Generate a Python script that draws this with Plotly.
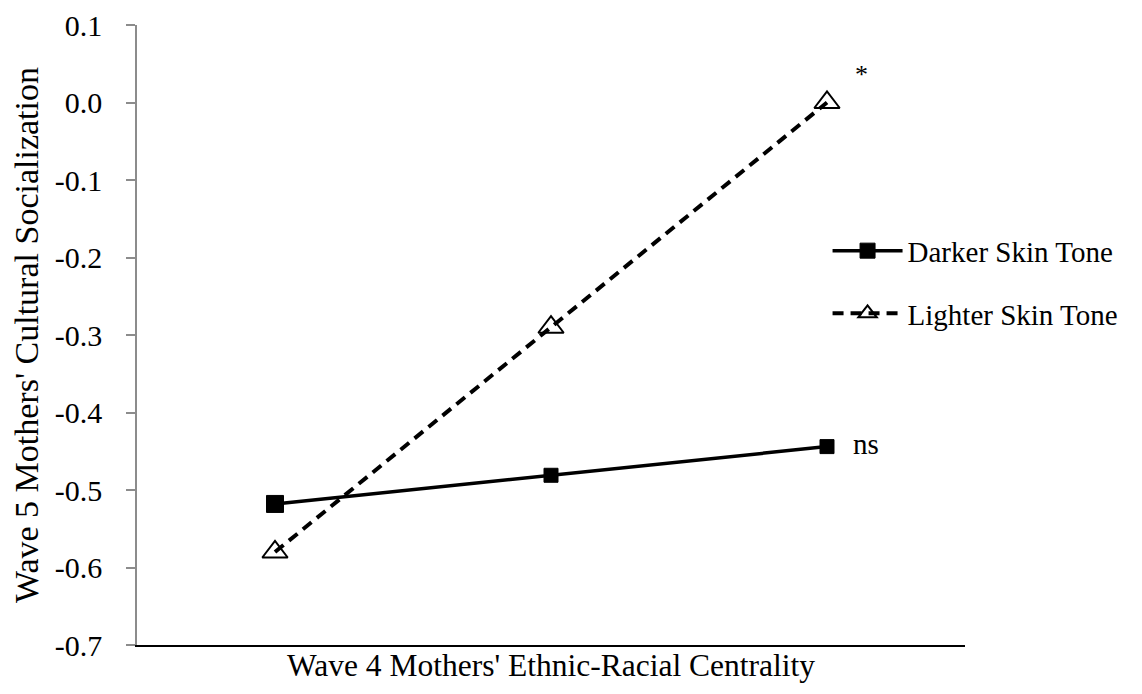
import plotly.graph_objects as go

categories = ["Low", "Mean", "High"]
darker = [-0.518, -0.481, -0.444]
lighter = [-0.58, -0.29, 0.0]
darker_sizes = [17, 14, 14]
y_ticks = [0.1, 0.0, -0.1, -0.2, -0.3, -0.4, -0.5, -0.6, -0.7]
y_ticklabels = ["0.1", "0.0", "-0.1", "-0.2", "-0.3", "-0.4", "-0.5", "-0.6", "-0.7"]

FONT = "Liberation Serif, Times New Roman, serif"

fig = go.Figure()
fig.add_trace(go.Scatter(
    x=categories, y=darker, name="Darker Skin Tone", mode="lines+markers",
    legendgroup="a",
    line=dict(color="black", width=3.5),
    marker=dict(symbol="square", size=darker_sizes, color="black", opacity=1,
                line=dict(color="black", width=1)),
))
fig.add_trace(go.Scatter(
    x=categories, y=lighter, name="Lighter Skin Tone", mode="lines+markers",
    legendgroup="b",
    line=dict(color="black", width=4, dash="11px,7px"),
    marker=dict(symbol="triangle-up-open", size=22, color="black", opacity=1,
                line=dict(color="black", width=2)),
))

fig.add_annotation(x=categories[2], y=lighter[2], text="*", showarrow=False,
                   xshift=34, yshift=28, font=dict(size=26, family=FONT, color="black"))
fig.add_annotation(x=categories[2], y=darker[2], text="ns", showarrow=False,
                   xshift=39, yshift=3, font=dict(size=29, family=FONT, color="black"))

fig.update_layout(
    width=1134, height=686,
    margin=dict(l=129, r=177, t=17, b=49),
    paper_bgcolor="white", plot_bgcolor="white",
    font=dict(family=FONT, size=30, color="black"),
    showlegend=True,
    legend=dict(x=0.834, y=0.585, xanchor="left", yanchor="middle",
                font=dict(size=29, family=FONT), itemwidth=70,
                tracegroupgap=22, bgcolor="rgba(0,0,0,0)"),
    xaxis=dict(
        type="category", range=[-0.5, 2.5], showticklabels=False,
        showline=True, linecolor="black", linewidth=2, ticks="",
        showgrid=False, zeroline=False, automargin=False,
        title=dict(text="Wave 4 Mothers' Ethnic-Racial Centrality",
                   font=dict(size=31.5, family=FONT), standoff=8),
    ),
    yaxis=dict(
        range=[-0.7, 0.1], tickvals=y_ticks, ticktext=y_ticklabels,
        showline=True, linecolor="#8c8c8c", linewidth=1.5,
        ticks="outside", ticklen=9, tickcolor="#8c8c8c", tickwidth=1.5,
        ticklabelstandoff=18, ticklabeloverflow="allow", automargin=False,
        showgrid=False, zeroline=False,
        tickfont=dict(size=30, family=FONT),
        title=dict(text="Wave 5 Mothers' Cultural Socialization",
                   font=dict(size=34, family=FONT), standoff=10),
    ),
)

fig.write_html("out.html")
